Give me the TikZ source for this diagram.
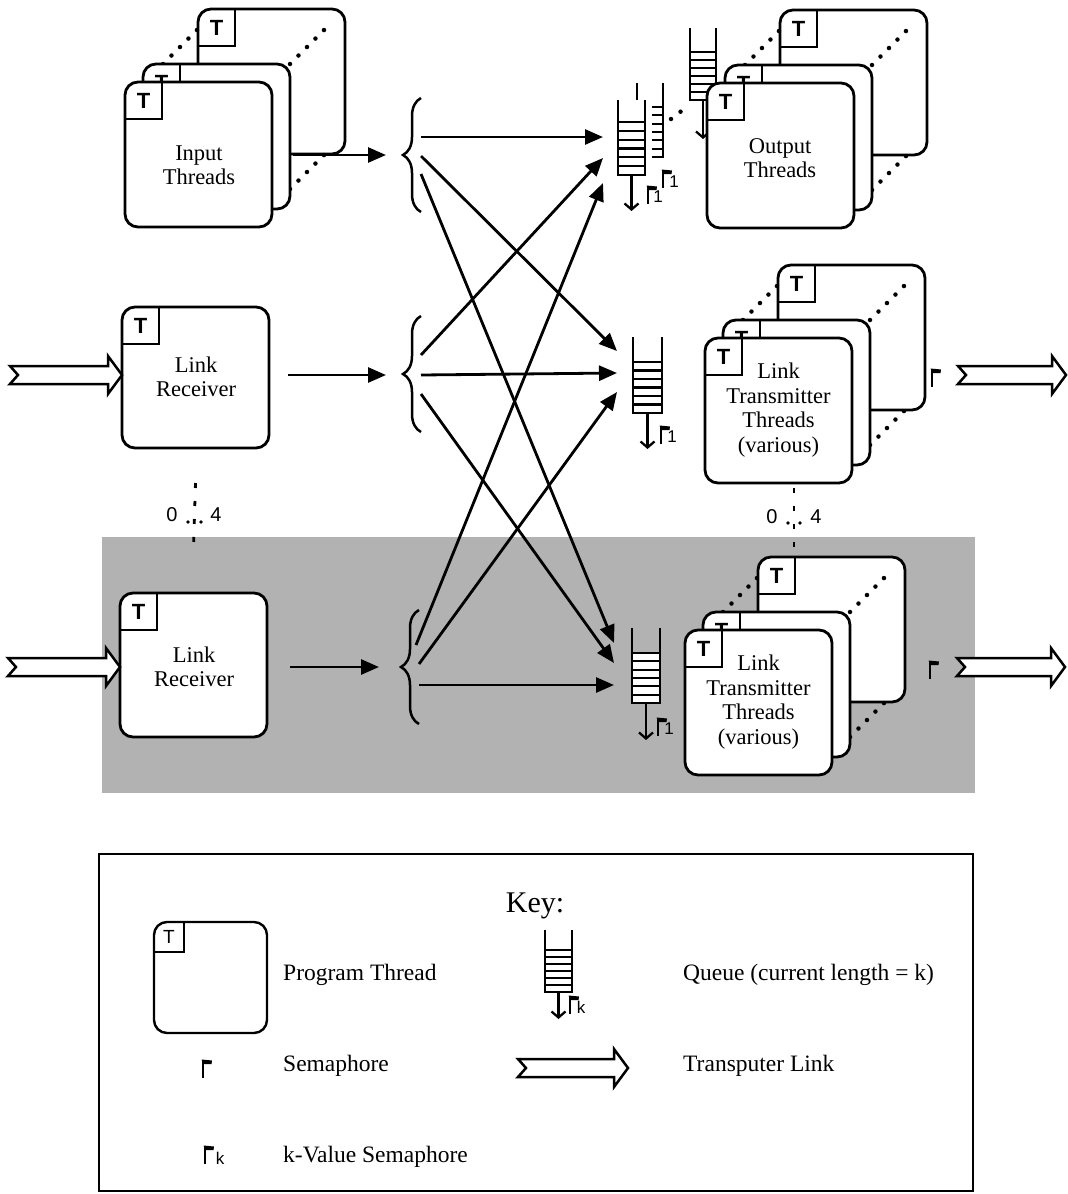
\documentclass[tikz,border=0pt]{standalone}
\usepackage{fontspec}
\setmainfont{Liberation Serif}
\newfontfamily\hvfont{Liberation Sans}
\usetikzlibrary{arrows.meta,decorations.pathreplacing,calc}

\tikzset{
  thr/.style={draw, fill=white, line width=2.8pt, rounded corners=13pt, inner sep=0pt, outer sep=0pt,
              anchor=north west, minimum width=147pt, minimum height=145pt},
  keythr/.style={thr, line width=2.4pt, minimum width=113pt, minimum height=111pt},
  tline/.style={line width=2.4pt},
  tlabel/.style={font=\hvfont\bfseries\fontsize{22}{22}\selectfont, inner sep=0pt},
  ktlabel/.style={font=\hvfont\fontsize{19}{19}\selectfont, inner sep=0pt},
  dotline/.style={line width=4.5pt, line cap=round, dash pattern=on 0pt off 12pt},
  multi/.style={line width=2.8pt, dash pattern=on 5pt off 13pt},
  lbl/.style={font=\fontsize{22.5}{24.5}\selectfont, align=center, inner sep=0pt},
  keytxt/.style={font=\fontsize{23.5}{26}\selectfont, anchor=west, inner sep=0pt},
  flow/.style={line width=2.8pt, -{Triangle[length=18pt,width=15pt]}},
  qline/.style={line width=2.3pt},
  qout/.style={line width=2.3pt, -{Straight Barb[length=6pt,width=14pt,line width=2.3pt]}},
  brc/.style={line width=2.5pt, decorate, decoration={brace, amplitude=18pt}},
  tlink/.style={line width=2.5pt, fill=white, line join=miter},
  subs/.style={font=\hvfont\fontsize{17}{17}\selectfont, inner sep=0pt},
  numtxt/.style={font=\hvfont\fontsize{20}{20}\selectfont, inner sep=0pt},
  semflag/.pic={
    \fill (-1.4,0) rectangle (1.4,-18);
    \fill (-1.4,-18.5) -- (9,-17.5) -- (8.5,-14) -- (0,-13.8) -- cycle;
  },
}

% corner square with the thread mark: #1 box name, #2 side, #3 label style
\newcommand\tsq[3]{%
  \draw[tline] ($(#1.north west)+(#2,0)$) -- ++(0,#2) -- ++(-#2,0);
  \node[#3] (#1T) at ($(#1.north west)+(#2/2,#2/2)$) {T};
}

% three stacked thread boxes, front box at (#2,#3)
\newcommand\threadstack[3]{%
  \node[thr] (#1b) at (#2+73,#3-73) {};
  \tsq{#1b}{37}{tlabel}
  \draw[dotline] ([xshift=-35pt,yshift=-55pt]#1b.north west) -- ([yshift=-20pt]#1b.north west);
  \draw[dotline] ([xshift=-55pt,yshift=-55pt]#1b.north east) -- ([xshift=-18pt,yshift=-18pt]#1b.north east);
  \draw[dotline] ([xshift=-55pt,yshift=-35pt]#1b.south east) -- ([xshift=-20pt]#1b.south east);
  \node[thr] (#1m) at (#2+18,#3-18) {};
  \tsq{#1m}{37}{tlabel}
  \node[thr] (#1f) at (#2,#3) {};
  \tsq{#1f}{37}{tlabel}
}

% queue: #1 left x, #2 wall top, #3 first slot, #4 bottom, #5 width
\newcommand\drawqueue[5]{%
  \fill[white] (#1,#3) rectangle (#1+#5,#4);
  \draw[qline] (#1,#2) -- (#1,#4) -- (#1+#5,#4) -- (#1+#5,#2);
  \foreach \k in {0,...,5}
    \draw[qline] (#1,{#3+\k*(#4-#3)/6}) -- (#1+#5,{#3+\k*(#4-#3)/6});
}

% transputer link arrow: #1 tail x, #2 centre y, #3 tip x
\newcommand\tlinkshape[3]{%
  \draw[tlink] (#1,#2-9) -- (#3-14,#2-9) -- (#3-14,#2-19) -- (#3,#2) -- (#3-14,#2+19)
    -- (#3-14,#2+9) -- (#1,#2+9) -- (#1+8,#2) -- cycle;
}

\begin{document}
\begin{tikzpicture}[x=1pt,y=-1pt]
\useasboundingbox (0,0) rectangle (1068,1194);
\fill[white] (0,0) rectangle (1068,1194);

% replicated link group
\fill[black!30] (102,537) rectangle (975,793);

% ---------- thread stacks ----------
\threadstack{in}{125}{82}
\node[lbl] (inlbl) at (199,165) {Input\\Threads};

% queue stack feeding the output threads
\draw[dotline] (671,119) -- (688,106);
\drawqueue{690}{28}{52}{100}{26}
\draw[qout] (703,100) -- (703,139);

\threadstack{out}{707}{83}
\node[lbl] (outlbl) at (780,158) {Output\\Threads};

\threadstack{ta}{705}{338}
\node[lbl] (talbl) at (778.5,410) {Link\\Transmitter\\Threads\\(various)};

\threadstack{tb}{685}{630}
\node[lbl] (tblbl) at (758.5,702) {Link\\Transmitter\\Threads\\(various)};

% ---------- link receivers ----------
\node[thr, minimum height=141pt] (lr1) at (122,307) {};
\tsq{lr1}{37}{tlabel}
\node[lbl] (lr1lbl) at (196,377) {Link\\Receiver};

\node[thr, minimum height=144pt] (lr2) at (120,593) {};
\tsq{lr2}{37}{tlabel}
\node[lbl] (lr2lbl) at (194,667) {Link\\Receiver};

% ---------- multiplicity markers ----------
\draw[multi] ([yshift=-35pt]lr1.south) -- ([yshift=45pt]lr2.north);
\node[numtxt] (zl) at (172,515) {0};
\node[numtxt] (fl) at (216,515) {4};
\fill (188,522) circle (1.8) (201,522) circle (1.8);

\coordinate (ma) at (794,488);
\coordinate (mb) at (794,553);
\draw[multi] (ma) -- (mb);
\node[numtxt] (zr) at (772,517) {0};
\node[numtxt] (fr) at (816,517) {4};
\fill (788,523) circle (1.8) (800,523) circle (1.8);

% ---------- queues ----------
\drawqueue{637}{83}{107}{157}{26}
\pic at (663,188) {semflag};
\node[subs] (q1bsub) at (674,182) {1};
\fill[white] (616,100) rectangle (652,176);
\drawqueue{618}{100}{122}{175}{27}
\draw[qout] (631.5,175) -- (631.5,211);
\pic at (648,204) {semflag};
\node[subs] (q1sub) at (658,197) {1};

\drawqueue{633}{337}{362}{413}{29}
\draw[qout] (647.5,413) -- (647.5,449);
\pic at (661,444) {semflag};
\node[subs] (q2sub) at (672,437) {1};

\drawqueue{632}{628}{653}{703}{28}
\draw[qout] (646,703) -- (646,740);
\pic at (658,736) {semflag};
\node[subs] (q3sub) at (669,729) {1};

% ---------- braces ----------
\draw[brc] (421,212) -- (421,98);
\draw[brc] (421,432) -- (421,316);
\draw[brc] (419,724) -- (419,610);

% ---------- message flows ----------
\coordinate (inout) at (293,155);
\coordinate (lr1out) at (288,375);
\coordinate (lr2out) at (290,667);
\coordinate (b1in) at (386,155);
\coordinate (b2in) at (386,375);
\coordinate (b3in) at (379,667);
\draw[flow] (inout) -- (b1in);
\draw[flow] (lr1out) -- (b2in);
\draw[flow] (lr2out) -- (b3in);

\coordinate (b1a) at (421,137); \coordinate (b1b) at (421,156); \coordinate (b1c) at (421,174);
\coordinate (b2a) at (421,355); \coordinate (b2b) at (421,375); \coordinate (b2c) at (421,394);
\coordinate (b3a) at (416,645); \coordinate (b3b) at (419,664); \coordinate (b3c) at (419,685);
\coordinate (q1a) at (603,137); \coordinate (q1b) at (603,158); \coordinate (q1c) at (603,183);
\coordinate (q2a) at (617,351); \coordinate (q2b) at (617,373); \coordinate (q2c) at (617,392);
\coordinate (q3a) at (614,643); \coordinate (q3b) at (614,663); \coordinate (q3c) at (614,685);

\draw[flow] (b1a) -- (q1a);
\draw[flow] (b1b) -- (q2a);
\draw[flow] (b1c) -- (q3a);
\draw[flow] (b2a) -- (q1b);
\draw[flow] (b2b) -- (q2b);
\draw[flow] (b2c) -- (q3b);
\draw[flow] (b3a) -- (q1c);
\draw[flow] (b3b) -- (q2c);
\draw[flow] (b3c) -- (q3c);

% ---------- transputer links and semaphores ----------
\tlinkshape{10}{375}{122}
\tlinkshape{8}{667}{120}
\pic at (932,387) {semflag};
\tlinkshape{958}{375}{1066}
\pic at (930,679) {semflag};
\tlinkshape{957}{667}{1065}

% ---------- key ----------
\node[draw, line width=2.2pt, anchor=north west, minimum width=874pt, minimum height=337pt,
      inner sep=0pt] (keyframe) at (98,853) {};
\node[font=\fontsize{30}{30}\selectfont, inner sep=0pt] (keytitle) at (535,906) {Key:};

\node[keythr] (kthr) at (154,922) {};
\tsq{kthr}{30}{ktlabel}
\node[keytxt] (kt1) at (283,975) {Program Thread};

\drawqueue{545}{930}{950}{992}{27}
\draw[qout] (558.5,992) -- (558.5,1019);
\pic at (570,1014) {semflag};
\node[subs] (kqsub) at (581,1007) {k};
\node[keytxt] (kt2) at (683,975) {Queue (current length = k)};

\pic at (203,1078) {semflag};
\node[keytxt] (kt3) at (283,1066) {Semaphore};
\tlinkshape{518}{1068}{628}
\node[keytxt] (kt4) at (683,1066) {Transputer Link};

\pic at (205,1164) {semflag};
\node[subs] (kvsub) at (220,1158) {k};
\node[keytxt] (kt5) at (283,1157) {k-Value Semaphore};
\end{tikzpicture}
\end{document}
